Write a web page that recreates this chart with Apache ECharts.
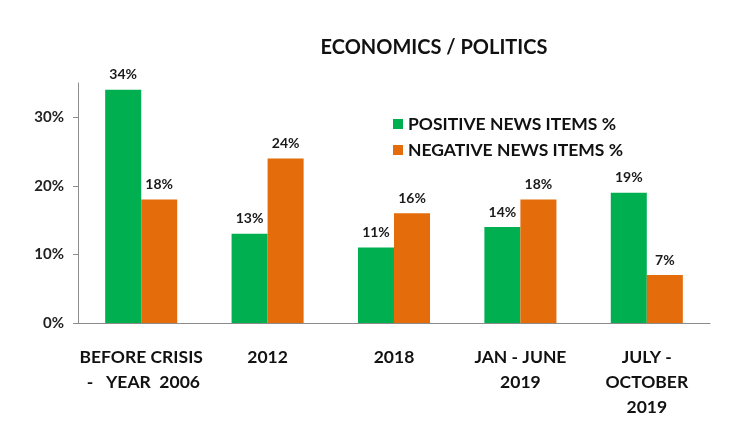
<!DOCTYPE html>
<html><head><meta charset="utf-8">
<script src="https://cdn.jsdelivr.net/npm/echarts@6/dist/echarts.min.js"></script>
<style>html,body{margin:0;padding:0;background:#fff}#c{width:743px;height:447px}</style>
</head><body><div id="c"></div>
<script>
const categories = ['BEFORE CRISIS\n -   YEAR  2006', '2012', '2018', 'JAN - JUNE\n2019', 'JULY -\nOCTOBER\n2019'];
const positive = [34, 13, 11, 14, 19];
const negative = [18, 24, 16, 18, 7];
const yTicks = [0, 10, 20, 30];
const seriesNames = ['POSITIVE NEWS ITEMS %', 'NEGATIVE NEWS ITEMS %'];

const FONT = 'Lato';
const chart = echarts.init(document.getElementById('c'));
const lbl = {show: true, position: 'top', formatter: '{c}%', fontFamily: FONT, fontWeight: 'bold', fontSize: 14, color: '#1a1a1a', distance: 8};
chart.setOption({
  animation: false,
  title: {text: 'ECONOMICS / POLITICS', left: 429, top: 33, textAlign: 'center',
    textStyle: {fontFamily: FONT, fontWeight: 'bold', fontSize: 20, color: '#111'}},
  legend: {orient: 'vertical', left: 388, top: 110, itemWidth: 10, itemHeight: 10, itemGap: 8,
    icon: 'rect', textStyle: {fontFamily: FONT, fontWeight: 'bold', fontSize: 17.5, color: '#111'}},
  grid: {left: 78, right: 33, top: 83, bottom: 124},
  xAxis: {type: 'category', data: categories,
    axisLine: {lineStyle: {color: '#8c8c8c'}},
    axisTick: {length: 5, lineStyle: {color: '#8c8c8c'}},
    axisLabel: {fontFamily: FONT, fontWeight: 'bold', fontSize: 17.5, color: '#111', lineHeight: 25, margin: 22, interval: 0}},
  yAxis: {type: 'value', min: 0, max: 35, interval: 10,
    splitLine: {show: false},
    axisLine: {show: true, lineStyle: {color: '#8c8c8c'}},
    axisTick: {show: true, length: 5, lineStyle: {color: '#8c8c8c'}, customValues: yTicks},
    axisLabel: {formatter: '{value}%', fontFamily: FONT, fontWeight: 'bold', fontSize: 15, color: '#222', margin: 14, customValues: yTicks}},
  series: [
    {name: seriesNames[0], type: 'bar', data: positive, barGap: '0%', barCategoryGap: '43%',
     itemStyle: {color: '#00B050'}, label: lbl},
    {name: seriesNames[1], type: 'bar', data: negative,
     itemStyle: {color: '#E46C0A'}, label: lbl}
  ]
});
</script></body></html>
